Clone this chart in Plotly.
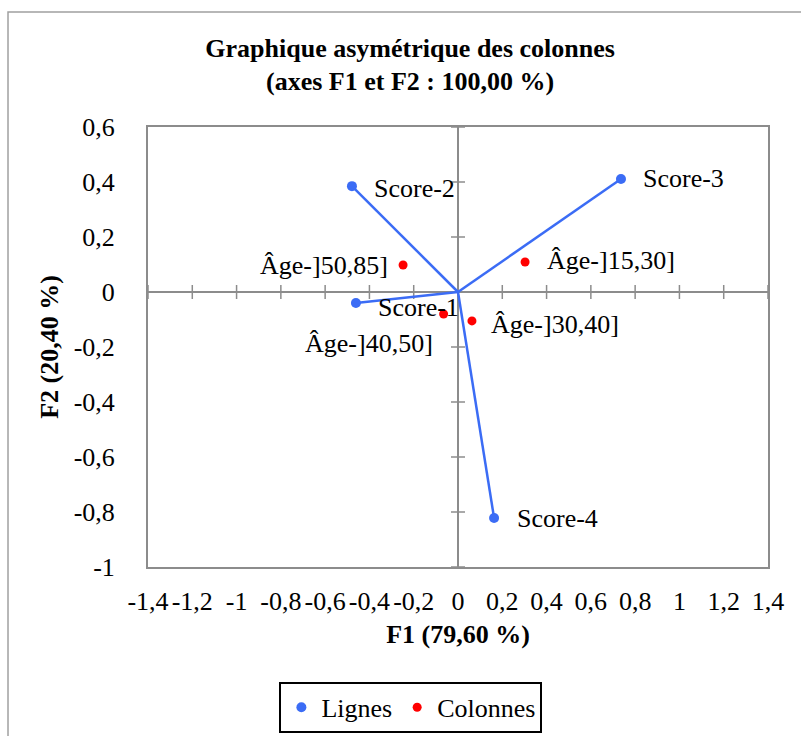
import plotly.graph_objects as go

# Row profiles (Lignes) and column profiles (Colonnes) on F1/F2
row_names = ["Score-1", "Score-2", "Score-3", "Score-4"]
row_f1 = [-0.461, -0.479, 0.736, 0.163]
row_f2 = [-0.040, 0.385, 0.411, -0.822]

col_names = ["Âge-]15,30]", "Âge-]30,40]", "Âge-]40,50]", "Âge-]50,85]"]
col_f1 = [0.303, 0.063, -0.065, -0.248]
col_f2 = [0.109, -0.105, -0.080, 0.098]

x_ticks = [-1.4, -1.2, -1.0, -0.8, -0.6, -0.4, -0.2, 0.0, 0.2, 0.4, 0.6, 0.8, 1.0, 1.2, 1.4]
y_ticks = [-1.0, -0.8, -0.6, -0.4, -0.2, 0.0, 0.2, 0.4, 0.6]


def fr(v):
    s = f"{v:.1f}".rstrip("0").rstrip(".")
    if s in ("-0", ""):
        s = "0"
    return s.replace(".", ",")


FONT = "Liberation Serif"
FS = 26
BLUE = "#3B6CF5"
RED = "#FF0000"
GRAY = "#8C8C8C"

fig = go.Figure()

# segments from the origin to each row point
seg_x, seg_y = [], []
for x, y in zip(row_f1, row_f2):
    seg_x += [0, x, None]
    seg_y += [0, y, None]
fig.add_trace(go.Scatter(x=seg_x, y=seg_y, mode="lines",
                         line=dict(color=BLUE, width=2.5),
                         showlegend=False, hoverinfo="skip"))

fig.add_trace(go.Scatter(x=row_f1, y=row_f2, mode="markers", name="Lignes",
                         marker=dict(color=BLUE, size=10)))
fig.add_trace(go.Scatter(x=col_f1, y=col_f2, mode="markers", name="Colonnes",
                         marker=dict(color=RED, size=9)))

# point labels
row_offsets = {"Score-1": (20, -4), "Score-2": (20, -2), "Score-3": (20, 0), "Score-4": (21, 0)}
for n, x, y in zip(row_names, row_f1, row_f2):
    dx, dy = row_offsets[n]
    fig.add_annotation(x=x, y=y, text=n, showarrow=False, xanchor="left",
                       xshift=dx, yshift=dy, font=dict(family=FONT, size=FS, color="black"))

col_offsets = {
    "Âge-]15,30]": ("left", 20, 2),
    "Âge-]30,40]": ("left", 17, -4),
    "Âge-]40,50]": ("right", -9, -29),
    "Âge-]50,85]": ("right", -13, 0),
}
for n, x, y in zip(col_names, col_f1, col_f2):
    anc, dx, dy = col_offsets[n]
    fig.add_annotation(x=x, y=y, text=n, showarrow=False, xanchor=anc,
                       xshift=dx, yshift=dy, font=dict(family=FONT, size=FS, color="black"))

# cross tick marks along the zero lines
shapes = []
for t in x_ticks:
    shapes.append(dict(type="line", xref="x", yref="y", x0=t, x1=t,
                       ysizemode="pixel", yanchor=0, y0=-7, y1=7,
                       line=dict(color=GRAY, width=1.5), layer="below"))
for t in y_ticks:
    shapes.append(dict(type="line", xref="x", yref="y", y0=t, y1=t,
                       xsizemode="pixel", xanchor=0, x0=-7, x1=7,
                       line=dict(color=GRAY, width=1.5), layer="below"))
# chart frame
shapes.append(dict(type="rect", xref="paper", yref="paper",
                   x0=-0.2258, x1=1.3, y0=-0.5, y1=1.2614,
                   line=dict(color="#A0A0A0", width=1.5)))

axis_common = dict(showgrid=False, zeroline=True, zerolinecolor=GRAY, zerolinewidth=2,
                   showline=True, linecolor=GRAY, linewidth=2, mirror=True,
                   ticks="", tickangle=0, automargin=False,
                   tickfont=dict(family=FONT, size=FS, color="black"))

fig.update_layout(
    width=801, height=736,
    margin=dict(l=148, r=33, t=127, b=169, autoexpand=False),
    paper_bgcolor="white", plot_bgcolor="white",
    font=dict(family=FONT, color="black"),
    title=dict(text="<b>Graphique asymétrique des colonnes<br>(axes F1 et F2 : 100,00 %)</b>",
               x=0.512, xanchor="center", y=0.923, yanchor="middle", yref="container",
               font=dict(family=FONT, size=FS, color="black")),
    xaxis=dict(range=[-1.4, 1.4], tickmode="array", tickvals=x_ticks,
               ticktext=[fr(v) for v in x_ticks], ticklabelstandoff=10,
               title=dict(text="<b>F1 (79,60 %)</b>", standoff=10,
                          font=dict(family=FONT, size=FS, color="black")),
               **axis_common),
    yaxis=dict(range=[-1.0, 0.6], tickmode="array", tickvals=y_ticks,
               ticktext=[fr(v) for v in y_ticks], ticklabelstandoff=26,
               title=dict(text="<b>F2 (20,40 %)</b>", standoff=8,
                          font=dict(family=FONT, size=FS, color="black")),
               **axis_common),
    showlegend=True,
    legend=dict(orientation="h", x=0.424, xanchor="center", y=-0.261, yanchor="top",
                bordercolor="black", borderwidth=2,
                font=dict(family=FONT, size=FS, color="black")),
    shapes=shapes,
)

fig.write_html("out.html")
